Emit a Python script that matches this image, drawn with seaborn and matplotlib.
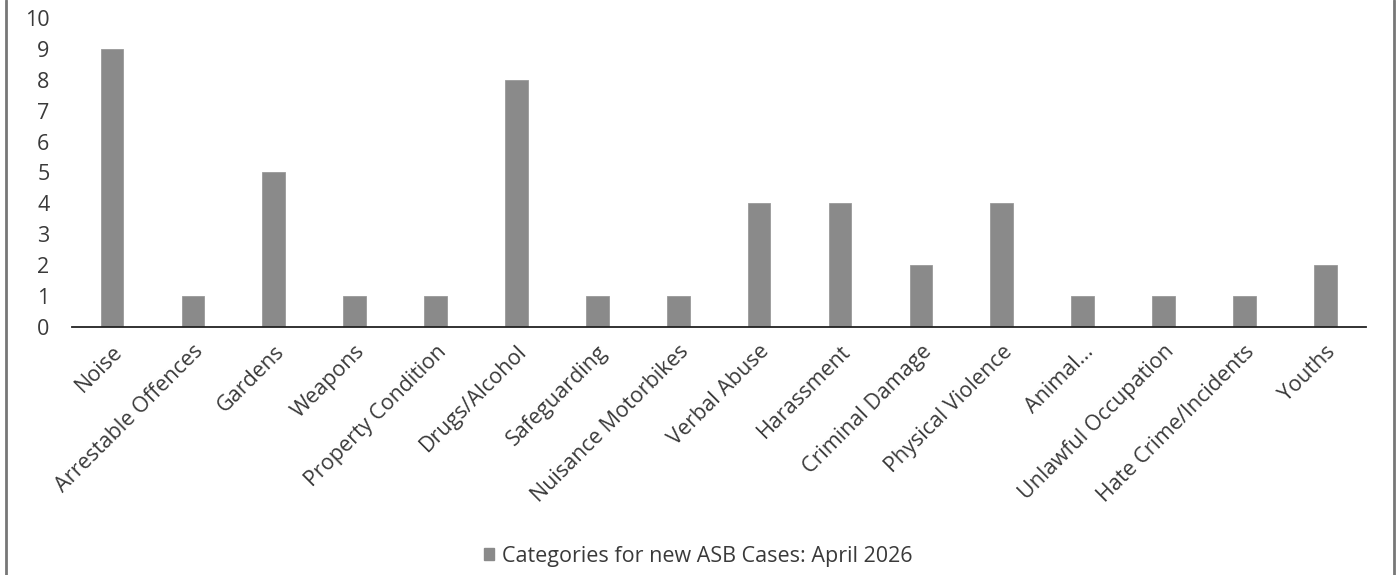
import matplotlib
matplotlib.use("Agg")
import matplotlib.pyplot as plt
import seaborn as sns
import pandas as pd
from matplotlib.lines import Line2D
from matplotlib.patches import Patch

categories = [
    "Noise", "Arrestable Offences", "Gardens", "Weapons", "Property Condition",
    "Drugs/Alcohol", "Safeguarding", "Nuisance Motorbikes", "Verbal Abuse",
    "Harassment", "Criminal Damage", "Physical Violence", "Animal...",
    "Unlawful Occupation", "Hate Crime/Incidents", "Youths",
]
cases = [9, 1, 5, 1, 1, 8, 1, 1, 4, 4, 2, 4, 1, 1, 1, 2]
series_name = "Categories for new ASB Cases: April 2026"
y_ticks = list(range(0, 11))

df = pd.DataFrame({"category": categories, "cases": cases})

sns.set_theme(style="white")
plt.rcParams["font.family"] = ["Open Sans", "DejaVu Sans"]

fig = plt.figure(figsize=(13.96, 5.75), dpi=100)
ax = fig.add_axes([0.0513, 0.431, 0.927, 0.538])

bar_color = "#8a8a8a"
text_color = "#3a3a3a"
fs = 15.5

sns.barplot(data=df, x="category", y="cases", color=bar_color, width=0.28,
            saturation=1, ax=ax, edgecolor="#9a9a9a", linewidth=0.6)

ax.set_ylim(0, 10)
ax.set_xlim(-0.5, len(categories) - 0.5)
ax.set_yticks(y_ticks)
ax.set_yticklabels([str(t) for t in y_ticks], fontsize=fs, color=text_color)
ax.set_xticks(range(len(categories)))
ax.set_xticklabels(categories, rotation=45, ha="right", rotation_mode="anchor",
                   fontsize=fs, color=text_color)
ax.tick_params(axis="y", length=0, pad=16)
ax.tick_params(axis="x", length=0, pad=10)
ax.set_xlabel("")
ax.set_ylabel("")

for side in ["top", "right", "left"]:
    ax.spines[side].set_visible(False)
ax.spines["bottom"].set_color("#222222")
ax.spines["bottom"].set_linewidth(1.3)

# outer chart frame edges
fig.add_artist(Line2D([0.0043, 0.0043], [0, 1], transform=fig.transFigure,
                      color="#777777", linewidth=2))
fig.add_artist(Line2D([0.9985, 0.9985], [0, 1], transform=fig.transFigure,
                      color="#777777", linewidth=2))

handle = Patch(facecolor=bar_color, edgecolor=bar_color)
fig.legend([handle], [series_name], loc="center", bbox_to_anchor=(0.5, 0.033),
           frameon=False, fontsize=fs, handlelength=0.5, handleheight=0.5,
           handletextpad=0.35, labelcolor=text_color)

fig.savefig("out.png", dpi=100, facecolor="white")
